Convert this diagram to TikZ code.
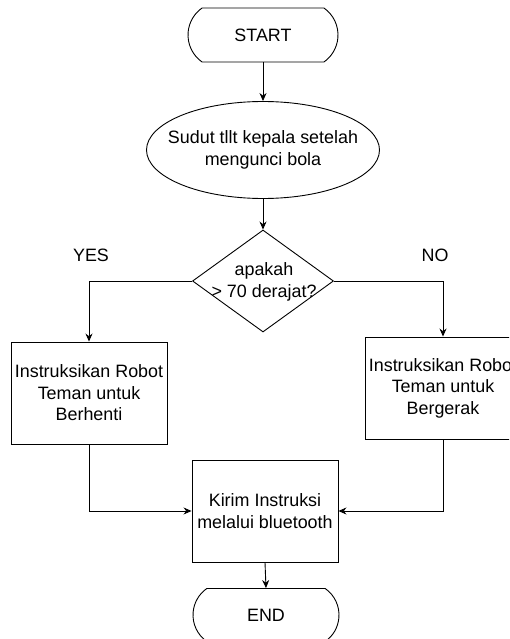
\documentclass[tikz,border=0pt]{standalone}
\usepackage{fontspec}
\setmainfont{Liberation Sans}
\usetikzlibrary{shapes.geometric,shapes.misc,arrows.meta}
\begin{document}
\begin{tikzpicture}[x=1pt,y=-1pt,
  every node/.style={font=\fontsize{17.9}{21.5}\selectfont},
  line/.style={draw=black, line width=0.9pt},
  arr/.style={line, -{Stealth[length=8pt,width=7pt]}},
  terminal/.style={line, rounded rectangle, rounded rectangle arc length=110,
    minimum width=150pt, minimum height=54pt, inner sep=0pt},
  oval/.style={line, ellipse, minimum width=233pt, minimum height=97pt, inner sep=0pt},
  decision/.style={line, diamond, minimum width=141pt, minimum height=102pt, inner sep=0pt},
  procbox/.style={line, rectangle, minimum width=156pt, minimum height=102pt,
    align=center, inner sep=0pt},
  txt/.style={align=center, inner sep=0pt},
]
% canvas
\useasboundingbox (0,0) rectangle (509,639);
\clip (0,0) rectangle (509,639);

% nodes
\node[terminal] (start) at (263,35) {START};
\node[oval, label={[txt]center:{Sudut tllt kepala setelah\\mengunci bola}}] (q) at (263,150) {};
\node[decision] (d) at (263,281) {};
\node[txt] (dtext) at (264,282) {apakah\\> 70 derajat?};
\node[procbox] (L) at (89,393) {Instruksikan Robot\\Teman untuk\\Berhenti};
\node[procbox] (R) at (443,388) {Instruksikan Robot\\Teman untuk\\Bergerak};
\node[procbox, minimum width=146pt] (K) at (265,511) {Kirim Instruksi\\melalui bluetooth};
\node[terminal, minimum width=146pt, minimum height=53pt] (end) at (266,615) {END};

% branch labels
\node[txt] (yes) at (91,255) {YES};
\node[txt] (no) at (435,255) {NO};

% connectors
\draw[arr] (start.south) -- (q.north);
\draw[arr] (q.south) -- (d.north);
\draw[arr] (d.west) -| (L.north);
\draw[arr] (d.east) -| (R.north);
\draw[arr] (L.south) |- (K.west);
\draw[arr] (R.south) |- (K.east);
\draw[arr] (K.south) -- (end.north);
\end{tikzpicture}
\end{document}
